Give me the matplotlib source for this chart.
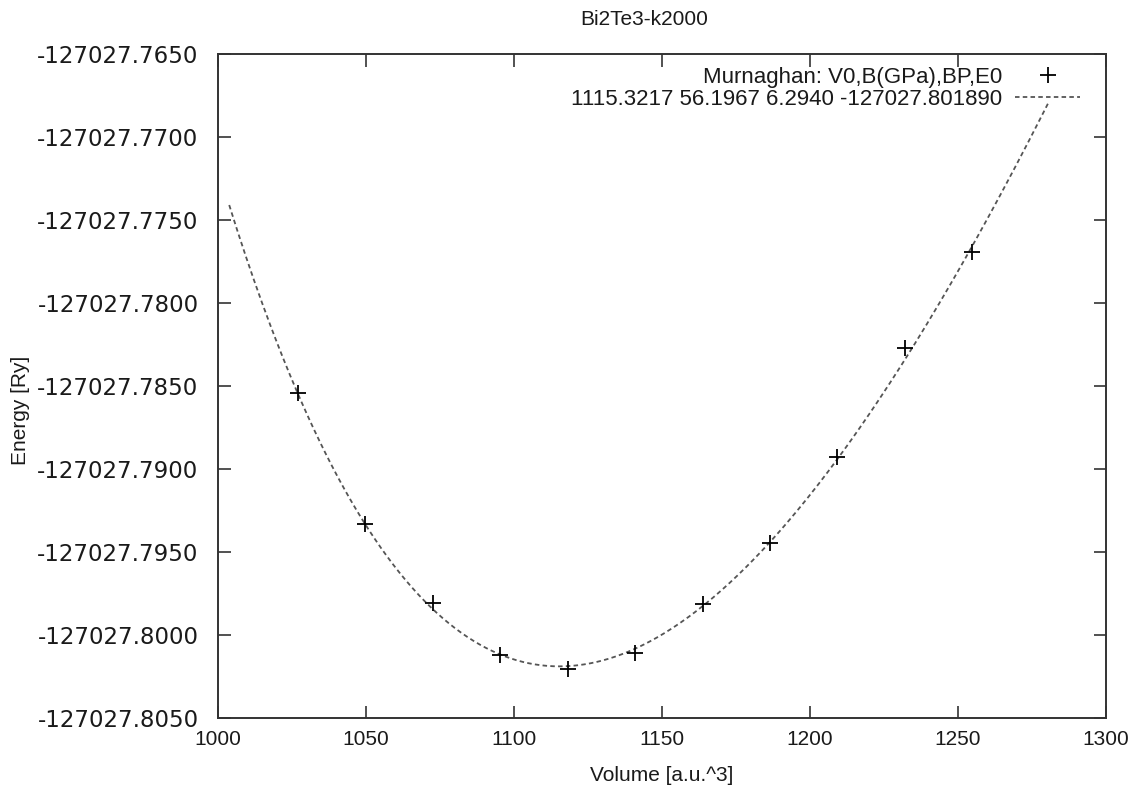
import matplotlib
matplotlib.use("Agg")
import matplotlib.pyplot as plt
import numpy as np

# E(V) points
volume = [1026.9, 1049.7, 1072.5, 1095.3, 1118.1, 1140.9,
          1163.7, 1186.5, 1209.3, 1232.1, 1254.9]
energy = [-127027.78544, -127027.79331, -127027.79807, -127027.80120,
          -127027.80205, -127027.80107, -127027.79813, -127027.79446,
          -127027.78928, -127027.78271, -127027.77691]

# Murnaghan fit parameters, as printed in the legend
V0 = 1115.3217
B_gpa = 56.1967
BP = 6.2940
E0 = -127027.801890
fit_range = (1003.8, 1280.4)

x_ticks = [1000, 1050, 1100, 1150, 1200, 1250, 1300]
y_ticks = [-127027.8050, -127027.8000, -127027.7950, -127027.7900,
           -127027.7850, -127027.7800, -127027.7750, -127027.7700,
           -127027.7650]


def murnaghan(v):
    b = B_gpa / 14710.5  # GPa -> Ry/bohr^3
    return E0 + b * v / BP * ((V0 / v) ** BP / (BP - 1) + 1) - b * V0 / (BP - 1)


plt.rcParams['font.family'] = ['Liberation Sans', 'DejaVu Sans']
txt = '#1a1a1a'

fig = plt.figure(figsize=(11.37, 7.87), dpi=100)
ax = fig.add_axes([0.1917, 0.0877, 0.7810, 0.8437])

v_fit = np.linspace(fit_range[0], fit_range[1], 400)
line, = ax.plot(v_fit, murnaghan(v_fit), color='#555555', lw=1.3,
                dashes=(2.5, 1.8))
pts, = ax.plot(volume, energy, ls='none', marker='+', color='black',
               markersize=11, markeredgewidth=1.3)

ax.set_xlim(1000, 1300)
ax.set_ylim(-127027.8050, -127027.7650)
ax.set_xticks(x_ticks)
ax.set_yticks(y_ticks)
ax.set_xticklabels([str(t) for t in x_ticks], fontsize=15, color=txt)
ax.set_yticklabels(['%.4f' % t for t in y_ticks], fontsize=16.5, color=txt,
                   family='DejaVu Sans')
ax.tick_params(direction='in', length=9, width=1.2, color='#333333',
               top=True, right=True)
ax.tick_params(axis='x', pad=9)
ax.tick_params(axis='y', pad=14)
for s in ax.spines.values():
    s.set_color('#333333')
    s.set_linewidth(1.4)

ax.set_xlabel('Volume [a.u.^3]', fontsize=15, color=txt, labelpad=12)
ax.set_ylabel('Energy [Ry]', fontsize=15, color=txt)
ax.yaxis.set_label_coords(-0.212, 0.464)
ax.set_title('Bi2Te3-k2000', fontsize=15, color=txt, pad=21, x=0.48)

leg1 = ax.legend([pts], ['Murnaghan: V0,B(GPa),BP,E0'], loc='upper right',
                 bbox_to_anchor=(0.9707, 0.981), markerfirst=False,
                 frameon=False, fontsize=16, handlelength=2.9,
                 handletextpad=0.6, borderpad=0, borderaxespad=0)
for t in leg1.get_texts():
    t.set_color(txt)
ax.add_artist(leg1)
leg2 = ax.legend([line], ['1115.3217 56.1967 6.2940 -127027.801890'],
                 loc='upper right', bbox_to_anchor=(0.9707, 0.947),
                 markerfirst=False, frameon=False, fontsize=16,
                 handlelength=2.9, handletextpad=0.6, borderpad=0,
                 borderaxespad=0)
for t in leg2.get_texts():
    t.set_color(txt)

fig.savefig('out.png', dpi=100)
